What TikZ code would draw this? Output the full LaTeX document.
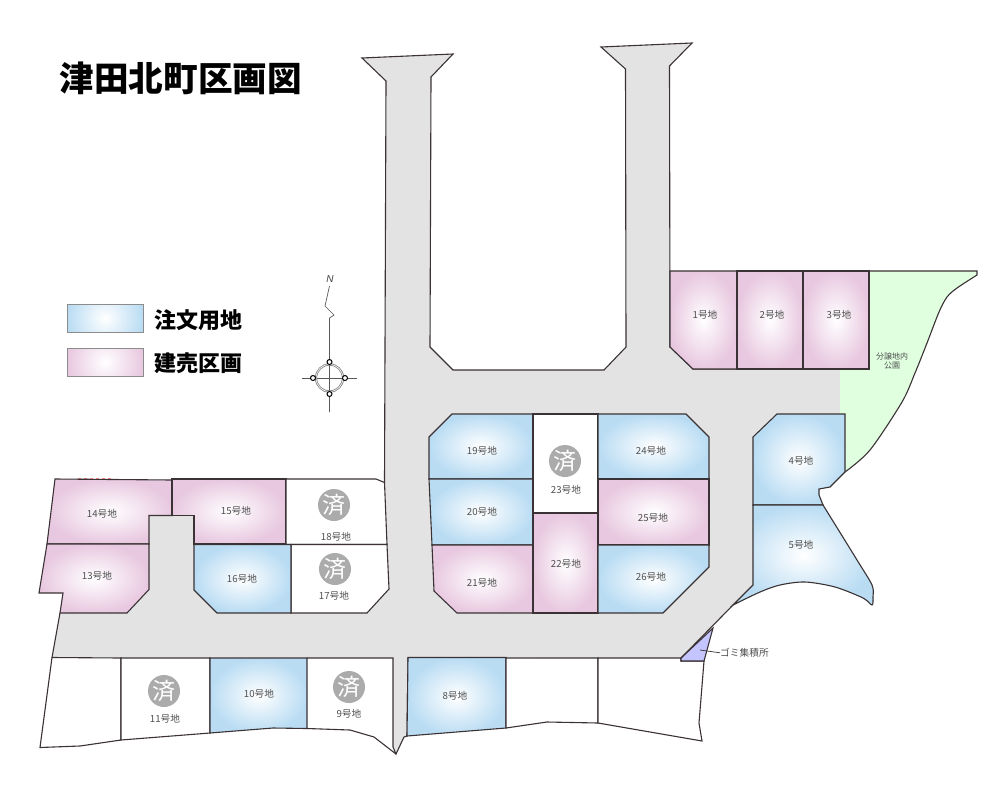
\documentclass[tikz,border=0pt]{standalone}
\usepackage{fontspec}
\setmainfont{Noto Sans CJK JP}
\newfontfamily\northfont{Liberation Sans}
\definecolor{roadgray}{HTML}{E3E3E3}
\definecolor{lotblue}{HTML}{B9DCF3}
\definecolor{lotpink}{HTML}{E8C8E0}
\definecolor{parkgreen}{HTML}{DFFFDF}
\definecolor{trashblue}{HTML}{C4C4FF}
\definecolor{edge}{HTML}{3A3234}
\definecolor{labelc}{HTML}{505050}
\definecolor{donegray}{HTML}{ABABAB}
\tikzset{
 outline/.style={draw=edge,line width=1.1pt,line join=miter},
 bluelot/.style={outline,inner color=white,outer color=lotblue},
 pinklot/.style={outline,inner color=white,outer color=lotpink},
 blanklot/.style={outline,fill=white},
 lotlabel/.style={font=\fontsize{9.7}{11}\selectfont,text=labelc,inner sep=0pt,yshift=-0.8pt},
 donemark/.style={circle,fill=donegray,minimum size=32pt,inner sep=0pt,text=white,font=\fontsize{23}{23}\selectfont},
 legendtext/.style={font=\fontsize{22}{24}\selectfont\bfseries,text=black,inner sep=0pt},
 compass/.style={draw=black!65,line width=0.7pt},
}
\begin{document}
\begin{tikzpicture}[x=1pt,y=-1pt]
\useasboundingbox (0,0) rectangle (1000,800);
\fill[white] (0,0) rectangle (1000,800);
% road
\fill[roadgray] (362,58)--(453,54)--(431,77)--(430,347)--(453,370)--(604,370)--(626,347)--(625.5,69)--(601,47)--(692,43)--(669.5,66)--(670,347)--(693,369)--(840,369)--(840,414)--(777,414)--(753,437)--(753,585)--(733,605)--(681,658)--(408,657.5)--(407,736)--(404,737)--(396,754)--(393,747)--(393,658)--(52,657.5)--(60,613)--(127,613)--(149,589.5)--(149,515.5)--(194,515.5)--(194,590)--(217,613)--(367,613)--(389,589)--(387,544)--(384.5,482)--(386,81)--cycle;
\draw[outline] (840,369)--(693,369)--(670,347)--(669.5,66)--(692,43)--(601,47)--(625.5,69)--(626,347)--(604,370)--(453,370)--(430,347)--(431,77)--(453,54)--(362,58)--(386,81)--(384.5,482);
\draw[outline] (60,613)--(52,657.5);
% park
\fill[parkgreen] (869,271)--(977,271)--(977,275) -- plot[smooth,tension=0.5] coordinates {(977,275)(957,288)(947,297)(939,312)(927,343)(915,373)(902,402)(870,450)(845,472)}--(845,414)--(840,414)--(840,369)--(869,369)--cycle;
\draw[outline] (869,271)--(977,271)--(977,275) -- plot[smooth,tension=0.5] coordinates {(977,275)(957,288)(947,297)(939,312)(927,343)(915,373)(902,402)(870,450)(845,472)};
% lots, top right
\shade[pinklot] (670,271)--(737,271)--(737,369)--(693,369)--(670,347)--cycle;
\shade[pinklot] (737,271)--(803,271)--(803,369)--(737,369)--cycle;
\shade[pinklot] (803,271)--(869,271)--(869,369)--(803,369)--cycle;
\shade[bluelot] (777,414)--(845,414)--(845,472)--(830,487)--(819,489)--(819,495)--(823,505)--(753,505)--(753,437)--cycle;
\shade[bluelot] (753,505)--(823,505) -- plot[smooth,tension=0.5] coordinates {(823,505)(857,560)(872,585)(873,597)(872,605)(863,598)(835,587)(805,582)(780,585)(760,592)(733,605)}--(753,585)--cycle;
% island
\shade[bluelot] (452,414)--(533,414)--(533,479)--(429,479)--(429,437)--cycle;
\shade[bluelot] (429,479)--(533,479)--(533,545)--(432,545)--cycle;
\shade[pinklot] (432,545)--(533,545)--(533,613)--(457,613)--(434,591)--cycle;
\shade[pinklot] (533,513)--(598,513)--(598,613)--(533,613)--cycle;
\draw[blanklot] (533,414)--(598,414)--(598,513)--(533,513)--cycle;
\shade[bluelot] (598,414)--(686,414)--(709,437)--(709,479)--(598,479)--cycle;
\shade[pinklot] (598,479)--(709,479)--(709,545)--(598,545)--cycle;
\shade[bluelot] (598,545)--(709,545)--(709,567)--(663,613)--(598,613)--cycle;
% left block
\draw[red!45,dashed,line width=0.6pt] (78,478)--(113,478);
\shade[pinklot] (55,479)--(172,480)--(172,515.5)--(149,515.5)--(149,544)--(47,544)--cycle;
\shade[pinklot] (47,544)--(149,544)--(149,589.5)--(127,613)--(60,613)--(63,593)--(39,593)--cycle;
\shade[pinklot] (172,479)--(286,479)--(286,544)--(194,544)--(194,515.5)--(172,515.5)--cycle;
\draw[blanklot] (286,479)--(376,479)--(384.5,482.5)--(387,544.5)--(286,544.5)--cycle;
\draw[blanklot] (291,544.5)--(387,544.5)--(389,589)--(367,613)--(291,613)--cycle;
\shade[bluelot] (194,544.5)--(291,544.5)--(291,613)--(217,613)--(194,590)--cycle;
% bottom row
\draw[blanklot] (52,657.5)--(121,658)--(121,740)--(80,746)--(40,747.5)--cycle;
\draw[blanklot] (121,658)--(210,658)--(210,733)--(121,740)--cycle;
\shade[bluelot] (210,658)--(307,658)--(307,728.5)--(273,728)--(210,733)--cycle;
\draw[outline] (307,658)--(393,658)--(393,747)--(396,754)--(404,737)--(407,736)--(408,657.5);
\draw[outline] (396,754)--(374,737)--(350,730)--(307,728.5);
\shade[bluelot] (408,657.5)--(506,657.5)--(506,728)--(407,736)--cycle;
\draw[blanklot] (506,658)--(598,658)--(598,723)--(547,722)--(506,728)--cycle;
\draw[blanklot] (598,658)--(681,658)--(681,661)--(704,661)--(699,723)--(702,741)--(598,723)--cycle;
\draw[outline,fill=trashblue] (681,658)--(713,628)--(704,661)--(681,661)--cycle;
\draw[outline] (681,658)--(733,605);
% done marks
\node[donemark] (d18) at (334,505) {済};
\node[donemark] (d17) at (335,569) {済};
\node[donemark] (d11) at (164,691) {済};
\node[donemark] (d9) at (349,687) {済};
\node[donemark] (d23) at (565,461) {済};
% labels
\node[lotlabel] (l1) at (705,314) {1号地};
\node[lotlabel] (l2) at (772,314) {2号地};
\node[lotlabel] (l3) at (839,314) {3号地};
\node[lotlabel] (l4) at (801,460) {4号地};
\node[lotlabel] (l5) at (801,544) {5号地};
\node[lotlabel] (l8) at (455,695) {8号地};
\node[lotlabel] (l9) at (349,713) {9号地};
\node[lotlabel] (l10) at (259,693) {10号地};
\node[lotlabel] (l11) at (165,718) {11号地};
\node[lotlabel] (l13) at (97,575) {13号地};
\node[lotlabel] (l14) at (102,513) {14号地};
\node[lotlabel] (l15) at (236,510) {15号地};
\node[lotlabel] (l16) at (242,578) {16号地};
\node[lotlabel] (l17) at (334,595) {17号地};
\node[lotlabel] (l18) at (336,536) {18号地};
\node[lotlabel] (l19) at (482,450) {19号地};
\node[lotlabel] (l20) at (482,511) {20号地};
\node[lotlabel] (l21) at (482,582) {21号地};
\node[lotlabel] (l22) at (566,563) {22号地};
\node[lotlabel] (l23) at (566,489) {23号地};
\node[lotlabel] (l24) at (651,450) {24号地};
\node[lotlabel] (l25) at (653,517) {25号地};
\node[lotlabel] (l26) at (651,576) {26号地};
\node[lotlabel,font=\fontsize{8}{9}\selectfont,align=center] (park) at (892,360) {分譲地内\\公園};
\node[lotlabel,anchor=west] (trash) at (720,652) {ゴミ集積所};
\coordinate (trashpt) at (700,650);
\draw[edge,line width=0.7pt] (trashpt)--(trash.west);
% title
\node[font=\fontsize{34.6}{36}\selectfont\bfseries,text=black,inner sep=0pt,anchor=west] (title) at (59.5,78) {津田北町区画図};
% legend
\begin{scope}
\clip (67,304) rectangle (143,332);
\shade[inner color=white,outer color=lotblue] (67,280) rectangle (143,356);
\end{scope}
\draw[draw=black!45,line width=0.8pt] (67,304) rectangle (143,332);
\begin{scope}
\clip (67,348) rectangle (143,376);
\shade[inner color=white,outer color=lotpink] (67,324) rectangle (143,400);
\end{scope}
\draw[draw=black!45,line width=0.8pt] (67,348) rectangle (143,376);
\node[legendtext,anchor=west] (legA) at (154.5,320) {注文用地};
\node[legendtext,anchor=west] (legB) at (154.5,363) {建売区画};
% compass
\node[font=\fontsize{10}{10}\selectfont\northfont\itshape,text=black!75,inner sep=0pt] (north) at (330,279) {N};
\draw[compass] (329.5,286)--(325,306)--(334,315)--(329.5,318)--(329.5,412);
\draw[compass] (302,378)--(357,378);
\draw[draw=black!50,line width=2.2pt] (329.5,378) circle[radius=13.5];
\draw[draw=white,line width=0.6pt] (329.5,378) circle[radius=13.5];
\foreach \p in {(329.5,362),(329.5,394),(313,378),(345,378)} \draw[black,fill=white,line width=1pt] \p circle[radius=2.5];
\end{tikzpicture}
\end{document}
